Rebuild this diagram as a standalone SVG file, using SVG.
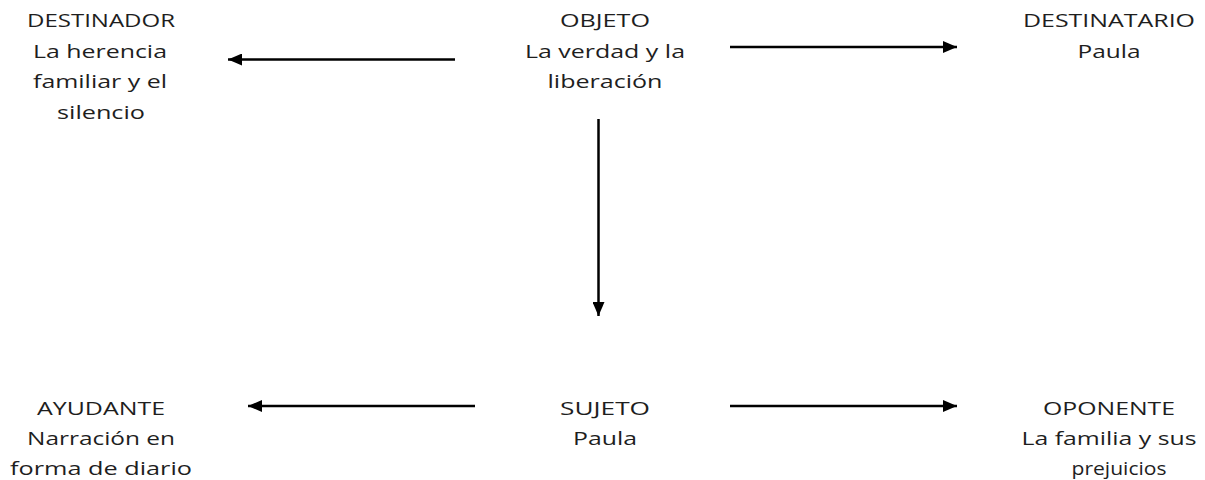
<svg xmlns="http://www.w3.org/2000/svg" width="1205" height="480" viewBox="0 0 1205 480">
<style>
text{font-family:"Open Sans","Noto Sans",sans-serif;font-size:18.5px;fill:#1e1e1e;text-anchor:middle}
.c{stroke:#000;stroke-width:2.5;fill:none}
</style>
<defs>
<marker id="ah" markerUnits="userSpaceOnUse" markerWidth="16" markerHeight="12" refX="14" refY="6" orient="auto">
<path d="M0,0 L14,6 L0,12 Z" fill="#000"/>
</marker>
</defs>
<rect width="1205" height="480" fill="#fff"/>
<g id="connectors">
<line class="c" x1="455" y1="59.5" x2="228" y2="59.5" marker-end="url(#ah)"/>
<line class="c" x1="730" y1="47" x2="957" y2="47" marker-end="url(#ah)"/>
<line class="c" x1="598.5" y1="119" x2="598.5" y2="316" marker-end="url(#ah)"/>
<line class="c" x1="475" y1="406" x2="248" y2="406" marker-end="url(#ah)"/>
<line class="c" x1="730" y1="406" x2="957" y2="406" marker-end="url(#ah)"/>
</g>
<g id="destinador">
<text x="101" y="27" textLength="148" lengthAdjust="spacingAndGlyphs">DESTINADOR</text>
<text x="100" y="57.5" textLength="134" lengthAdjust="spacingAndGlyphs">La herencia</text>
<text x="100" y="88" textLength="134" lengthAdjust="spacingAndGlyphs">familiar y el</text>
<text x="101" y="118.5" textLength="88" lengthAdjust="spacingAndGlyphs">silencio</text>
</g>
<g id="objeto">
<text x="605" y="27" textLength="90" lengthAdjust="spacingAndGlyphs">OBJETO</text>
<text x="605" y="57.5" textLength="160" lengthAdjust="spacingAndGlyphs">La verdad y la</text>
<text x="605" y="88" textLength="115" lengthAdjust="spacingAndGlyphs">liberación</text>
</g>
<g id="destinatario">
<text x="1109" y="27" textLength="172" lengthAdjust="spacingAndGlyphs">DESTINATARIO</text>
<text x="1109" y="57.5" textLength="63" lengthAdjust="spacingAndGlyphs">Paula</text>
</g>
<g id="ayudante">
<text x="101" y="415" textLength="128" lengthAdjust="spacingAndGlyphs">AYUDANTE</text>
<text x="101" y="445" textLength="148" lengthAdjust="spacingAndGlyphs">Narración en</text>
<text x="101" y="475" textLength="182" lengthAdjust="spacingAndGlyphs">forma de diario</text>
</g>
<g id="sujeto">
<text x="605" y="415" textLength="90" lengthAdjust="spacingAndGlyphs">SUJETO</text>
<text x="605" y="445" textLength="64" lengthAdjust="spacingAndGlyphs">Paula</text>
</g>
<g id="oponente">
<text x="1109" y="415" textLength="132" lengthAdjust="spacingAndGlyphs">OPONENTE</text>
<text x="1109" y="445" textLength="175" lengthAdjust="spacingAndGlyphs">La familia y sus</text>
<text x="1119" y="475" textLength="95" lengthAdjust="spacingAndGlyphs">prejuicios</text>
</g>
</svg>
